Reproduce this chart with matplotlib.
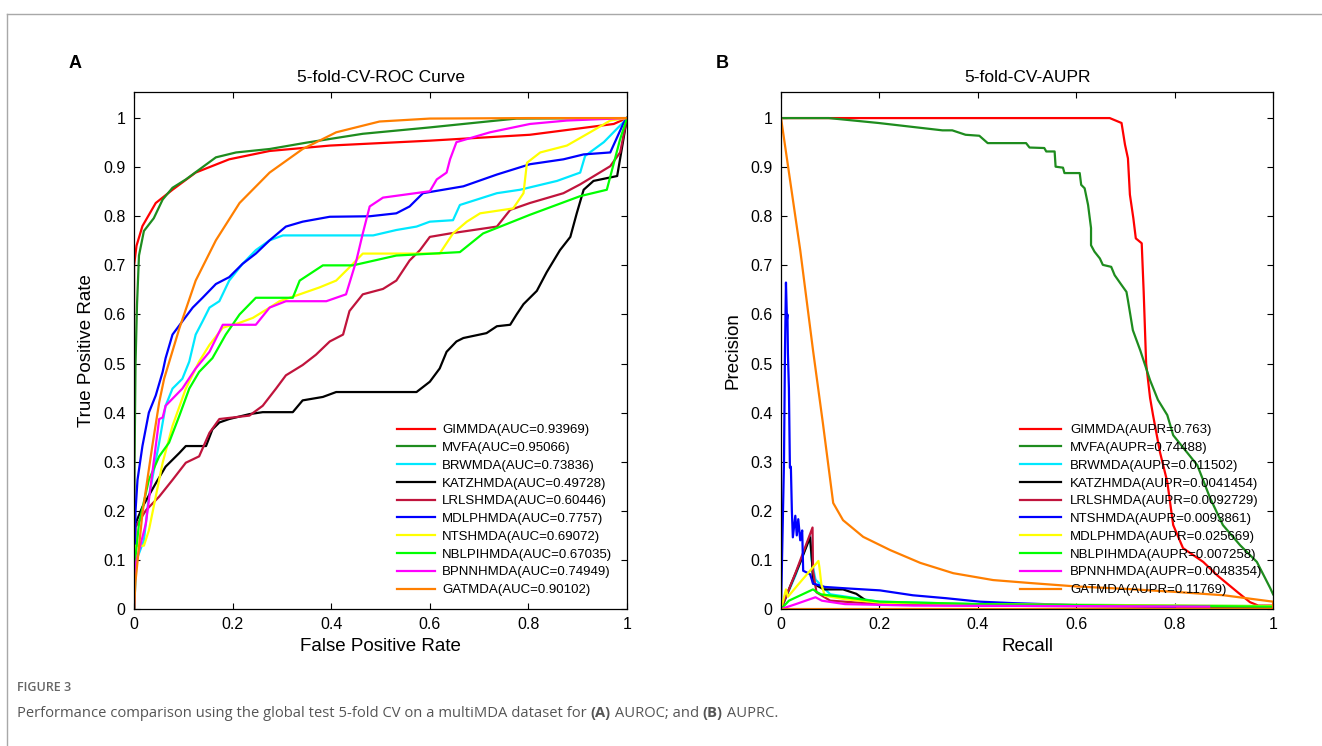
import matplotlib.pyplot as plt
from matplotlib.lines import Line2D

plt.rcParams['font.family'] = ['Liberation Sans', 'DejaVu Sans']

# ---- panel A: ROC curves ----
roc_names = ['GIMMDA', 'MVFA', 'BRWMDA', 'KATZHMDA', 'LRLSHMDA',
             'MDLPHMDA', 'NTSHMDA', 'NBLPIHMDA', 'BPNNHMDA', 'GATMDA']
roc_auc = ['0.93969', '0.95066', '0.73836', '0.49728', '0.60446',
           '0.7757', '0.69072', '0.67035', '0.74949', '0.90102']
roc_colors = ['#ff0000', '#1e8c1e', '#00e8ff', '#000000', '#c0143c',
              '#0000ff', '#ffff00', '#00ff00', '#ff00ff', '#ff7f00']

fpr_gimmda = [0, 0, 0.005, 0.017, 0.044, 0.078, 0.125, 0.193, 0.275, 0.397, 0.6, 0.803, 0.973, 1]
tpr_gimmda = [0, 0.7, 0.74, 0.78, 0.827, 0.854, 0.889, 0.916, 0.933, 0.944, 0.954, 0.966, 0.988, 1]
fpr_mvfa = [0, 0.001, 0.003, 0.006, 0.01, 0.02, 0.04, 0.058, 0.078, 0.105, 0.166, 0.207, 0.275,
            0.35, 0.464, 0.6, 0.736, 0.776, 1]
tpr_mvfa = [0, 0.3, 0.5, 0.62, 0.72, 0.77, 0.796, 0.834, 0.858, 0.875, 0.92, 0.93, 0.937,
            0.95, 0.968, 0.981, 0.995, 0.999, 1]
fpr_brwmda = [0, 0.005, 0.02, 0.03, 0.051, 0.064, 0.078, 0.098, 0.112, 0.125, 0.139, 0.153, 0.173,
              0.193, 0.22, 0.247, 0.275, 0.302, 0.485, 0.532, 0.573, 0.6, 0.647, 0.661, 0.736,
              0.783, 0.858, 0.905, 0.915, 0.953, 0.993, 1]
tpr_brwmda = [0, 0.1, 0.14, 0.229, 0.339, 0.414, 0.449, 0.469, 0.504, 0.559, 0.586, 0.614, 0.627,
              0.669, 0.703, 0.731, 0.751, 0.761, 0.761, 0.772, 0.779, 0.789, 0.792, 0.823, 0.847,
              0.854, 0.872, 0.889, 0.923, 0.951, 0.992, 1]
fpr_katz = [0, 0, 0.017, 0.044, 0.064, 0.092, 0.105, 0.146, 0.159, 0.173, 0.193, 0.234, 0.261,
            0.322, 0.342, 0.383, 0.41, 0.573, 0.6, 0.62, 0.634, 0.654, 0.668, 0.715, 0.736, 0.763,
            0.776, 0.79, 0.817, 0.837, 0.864, 0.885, 0.898, 0.912, 0.932, 0.98, 1]
tpr_katz = [0, 0.167, 0.208, 0.256, 0.29, 0.318, 0.332, 0.332, 0.366, 0.38, 0.387, 0.397, 0.401,
            0.401, 0.425, 0.432, 0.442, 0.442, 0.463, 0.49, 0.524, 0.545, 0.552, 0.562, 0.576, 0.579,
            0.6, 0.621, 0.648, 0.686, 0.731, 0.758, 0.806, 0.854, 0.872, 0.882, 1]
fpr_lrls = [0, 0.003, 0.024, 0.051, 0.078, 0.105, 0.132, 0.153, 0.173, 0.234, 0.261, 0.288, 0.308,
            0.342, 0.369, 0.397, 0.424, 0.437, 0.464, 0.505, 0.532, 0.559, 0.58, 0.6, 0.641, 0.736,
            0.763, 0.803, 0.871, 0.905, 0.966, 0.986, 1]
tpr_lrls = [0, 0.167, 0.201, 0.229, 0.263, 0.298, 0.311, 0.359, 0.387, 0.394, 0.414, 0.449, 0.476,
            0.497, 0.518, 0.545, 0.559, 0.607, 0.641, 0.652, 0.669, 0.71, 0.731, 0.758, 0.765, 0.779,
            0.813, 0.827, 0.847, 0.865, 0.902, 0.93, 1]
fpr_mdlp = [0, 0.003, 0.007, 0.017, 0.03, 0.044, 0.058, 0.064, 0.078, 0.098, 0.119, 0.139, 0.166,
            0.193, 0.22, 0.247, 0.275, 0.308, 0.342, 0.397, 0.478, 0.532, 0.559, 0.586, 0.668, 0.736,
            0.803, 0.871, 0.912, 0.966, 0.993, 1]
tpr_mdlp = [0, 0.2, 0.263, 0.332, 0.4, 0.435, 0.483, 0.511, 0.559, 0.586, 0.614, 0.634, 0.662,
            0.676, 0.703, 0.724, 0.751, 0.779, 0.789, 0.799, 0.8, 0.806, 0.82, 0.847, 0.861, 0.885,
            0.906, 0.916, 0.926, 0.93, 0.99, 1]
fpr_ntsh = [0, 0.003, 0.02, 0.03, 0.044, 0.058, 0.078, 0.105, 0.132, 0.153, 0.18, 0.214, 0.241,
            0.275, 0.295, 0.336, 0.376, 0.41, 0.437, 0.464, 0.62, 0.647, 0.675, 0.702, 0.769, 0.79,
            0.797, 0.824, 0.878, 0.925, 0.966, 1]
tpr_ntsh = [0, 0.129, 0.129, 0.16, 0.229, 0.298, 0.373, 0.449, 0.504, 0.538, 0.573, 0.583, 0.593,
            0.614, 0.627, 0.641, 0.655, 0.669, 0.696, 0.724, 0.724, 0.765, 0.789, 0.806, 0.816, 0.847,
            0.909, 0.93, 0.944, 0.971, 0.995, 1]
fpr_nblpi = [0, 0, 0.01, 0.03, 0.051, 0.071, 0.092, 0.112, 0.132, 0.159, 0.186, 0.214, 0.247, 0.322,
             0.336, 0.383, 0.444, 0.532, 0.661, 0.708, 0.803, 0.905, 0.959, 0.986, 1]
tpr_nblpi = [0, 0.078, 0.174, 0.263, 0.311, 0.339, 0.394, 0.449, 0.483, 0.511, 0.559, 0.6, 0.634, 0.634,
             0.669, 0.7, 0.7, 0.72, 0.727, 0.765, 0.803, 0.841, 0.854, 0.957, 1]
fpr_bpnn = [0, 0.003, 0.024, 0.051, 0.058, 0.064, 0.098, 0.125, 0.153, 0.18, 0.247, 0.275, 0.308,
            0.39, 0.43, 0.451, 0.464, 0.478, 0.505, 0.6, 0.614, 0.634, 0.641, 0.654, 0.722, 0.803,
            0.878, 1]
tpr_bpnn = [0, 0.091, 0.174, 0.387, 0.39, 0.414, 0.449, 0.49, 0.524, 0.579, 0.579, 0.614, 0.627,
            0.627, 0.641, 0.71, 0.765, 0.82, 0.838, 0.851, 0.875, 0.889, 0.916, 0.951, 0.971, 0.988,
            0.995, 1]
fpr_gat = [0, 0.003, 0.017, 0.037, 0.051, 0.061, 0.092, 0.125, 0.166, 0.214, 0.275, 0.342, 0.41,
           0.498, 0.6, 0.8, 1]
tpr_gat = [0, 0.057, 0.195, 0.332, 0.421, 0.469, 0.572, 0.669, 0.751, 0.827, 0.889, 0.937, 0.971,
           0.993, 0.999, 1, 1]

roc_fpr = [fpr_gimmda, fpr_mvfa, fpr_brwmda, fpr_katz, fpr_lrls,
           fpr_mdlp, fpr_ntsh, fpr_nblpi, fpr_bpnn, fpr_gat]
roc_tpr = [tpr_gimmda, tpr_mvfa, tpr_brwmda, tpr_katz, tpr_lrls,
           tpr_mdlp, tpr_ntsh, tpr_nblpi, tpr_bpnn, tpr_gat]

# ---- panel B: precision-recall curves ----
pr_names = ['GIMMDA', 'MVFA', 'BRWMDA', 'KATZHMDA', 'LRLSHMDA',
            'NTSHMDA', 'MDLPHMDA', 'NBLPIHMDA', 'BPNNHMDA', 'GATMDA']
pr_aupr = ['0.763', '0.74488', '0.011502', '0.0041454', '0.0092729',
           '0.0093861', '0.025669', '0.007258', '0.0048354', '0.11769']
pr_colors = ['#ff0000', '#1e8c1e', '#00e8ff', '#000000', '#c0143c',
             '#0000ff', '#ffff00', '#00ff00', '#ff00ff', '#ff7f00']

rec_gimmda = [0, 0.668, 0.692, 0.699, 0.705, 0.709, 0.716, 0.721, 0.733, 0.737, 0.742, 0.75, 0.756,
              0.77, 0.785, 0.797, 0.817, 0.858, 0.886, 0.927, 0.953, 0.97, 1]
pre_gimmda = [1, 1, 0.99, 0.946, 0.918, 0.844, 0.796, 0.755, 0.745, 0.646, 0.5, 0.43, 0.395,
              0.32, 0.259, 0.171, 0.124, 0.096, 0.069, 0.035, 0.014, 0.007, 0.007]
rec_mvfa = [0, 0.097, 0.198, 0.328, 0.348, 0.375, 0.403, 0.42, 0.498, 0.505, 0.535, 0.539, 0.556,
            0.558, 0.573, 0.576, 0.607, 0.61, 0.617, 0.624, 0.63, 0.63, 0.637, 0.648, 0.654, 0.671,
            0.678, 0.692, 0.702, 0.705, 0.715, 0.73, 0.75, 0.766, 0.785, 0.797, 0.846, 0.872, 0.898,
            0.933, 0.967, 0.994, 1]
pre_mvfa = [1, 1, 0.99, 0.975, 0.975, 0.966, 0.964, 0.949, 0.949, 0.94, 0.939, 0.932, 0.932,
            0.901, 0.899, 0.888, 0.888, 0.864, 0.857, 0.823, 0.776, 0.741, 0.728, 0.714, 0.701, 0.697,
            0.68, 0.66, 0.646, 0.629, 0.568, 0.527, 0.466, 0.426, 0.395, 0.354, 0.293, 0.226, 0.171,
            0.13, 0.096, 0.043, 0.03]
rec_brwmda = [0, 0.03, 0.059, 0.062, 0.07, 0.1, 0.2, 0.4, 0.7, 1.0]
pre_brwmda = [0, 0.07, 0.15, 0.1, 0.06, 0.03, 0.015, 0.01, 0.008, 0.006]
rec_katz = [0, 0.016, 0.039, 0.059, 0.063, 0.065, 0.087, 0.126, 0.153, 0.173, 0.2]
pre_katz = [0, 0.04, 0.095, 0.146, 0.098, 0.052, 0.04, 0.04, 0.031, 0.017, 0.008]
rec_lrls = [0, 0.03, 0.064, 0.065, 0.072, 0.1, 0.2, 0.4, 0.7, 1.0]
pre_lrls = [0, 0.075, 0.166, 0.078, 0.034, 0.017, 0.01, 0.007, 0.005, 0.004]
rec_ntsh = [0, 0.006, 0.008, 0.01, 0.012, 0.013, 0.014, 0.016, 0.018, 0.02, 0.022, 0.024, 0.029,
            0.032, 0.035, 0.039, 0.043, 0.045, 0.059, 0.065, 0.089, 0.134, 0.201, 0.268, 0.336,
            0.404, 0.472, 0.6, 0.8]
pre_ntsh = [0, 0.3, 0.526, 0.665, 0.59, 0.6, 0.52, 0.45, 0.288, 0.29, 0.2, 0.146, 0.19,
            0.15, 0.183, 0.14, 0.16, 0.078, 0.071, 0.052, 0.045, 0.042, 0.038, 0.028, 0.022,
            0.015, 0.012, 0.008, 0.005]
rec_mdlp = [0, 0.01, 0.014, 0.035, 0.076, 0.078, 0.082, 0.089, 0.13, 0.2, 0.4, 0.7, 1]
pre_mdlp = [0, 0.04, 0.025, 0.05, 0.098, 0.085, 0.05, 0.027, 0.02, 0.013, 0.01, 0.008, 0.006]
rec_nblpi = [0, 0.016, 0.065, 0.072, 0.081, 0.13, 0.2, 0.4, 0.7, 1]
pre_nblpi = [0, 0.017, 0.04, 0.035, 0.03, 0.024, 0.015, 0.01, 0.007, 0.005]
rec_bpnn = [0, 0.03, 0.07, 0.083, 0.13, 0.27, 0.6, 0.87]
pre_bpnn = [0, 0.01, 0.024, 0.017, 0.01, 0.007, 0.006, 0.005]
rec_gat = [0, 0.039, 0.065, 0.085, 0.106, 0.126, 0.167, 0.222, 0.283, 0.35, 0.431, 0.506, 0.6,
           0.7, 0.8, 0.9, 1, 1, 0]
pre_gat = [1, 0.731, 0.527, 0.379, 0.216, 0.181, 0.147, 0.12, 0.094, 0.073, 0.059, 0.053, 0.046,
           0.041, 0.035, 0.028, 0.015, 0, 0]

pr_rec = [rec_gimmda, rec_mvfa, rec_brwmda, rec_katz, rec_lrls,
          rec_ntsh, rec_mdlp, rec_nblpi, rec_bpnn, rec_gat]
pr_pre = [pre_gimmda, pre_mvfa, pre_brwmda, pre_katz, pre_lrls,
          pre_ntsh, pre_mdlp, pre_nblpi, pre_bpnn, pre_gat]

caption_parts = [('Performance comparison using the global test 5-fold CV on a multiMDA dataset for ', 'normal'),
                 ('(A)', 'bold'), (' AUROC; and ', 'normal'), ('(B)', 'bold'), (' AUPRC.', 'normal')]


fig = plt.figure(figsize=(13.22, 7.46), dpi=100)
fig.patch.set_facecolor('white')

ax1 = fig.add_axes([0.1014, 0.1836, 0.3729, 0.693])
ax2 = fig.add_axes([0.5908, 0.1836, 0.3722, 0.693])


def style_axes(ax):
    ax.set_xlim(0, 1)
    ax.set_ylim(0, 1.053)
    ax.set_xticks([0, 0.2, 0.4, 0.6, 0.8, 1])
    ax.set_xticklabels(['0', '0.2', '0.4', '0.6', '0.8', '1'])
    ax.set_yticks([i / 10 for i in range(11)])
    ax.set_yticklabels(['%g' % (i / 10) for i in range(11)])
    ax.tick_params(direction='in', top=True, right=True, length=4.5, width=0.8,
                   labelsize=11.5, pad=6)
    for s in ax.spines.values():
        s.set_linewidth(0.9)


for x, y, c, n, a in zip(roc_fpr, roc_tpr, roc_colors, roc_names, roc_auc):
    ax1.plot(x, y, color=c, lw=1.6, label='%s(AUC=%s)' % (n, a))
style_axes(ax1)
ax1.set_title('5-fold-CV-ROC Curve', fontsize=12.5, pad=7)
ax1.set_xlabel('False Positive Rate', fontsize=13.5, labelpad=4)
ax1.set_ylabel('True Positive Rate', fontsize=13.5, labelpad=6)
ax1.legend(loc='upper left', bbox_to_anchor=(0.533, 0.358), frameon=False, fontsize=9.5,
           handlelength=2.9, handletextpad=0.55, labelspacing=0.42, borderpad=0,
           borderaxespad=0)

for x, y, c, n, a in zip(pr_rec, pr_pre, pr_colors, pr_names, pr_aupr):
    ax2.plot(x, y, color=c, lw=1.6, label='%s(AUPR=%s)' % (n, a))
style_axes(ax2)
ax2.set_title('5-fold-CV-AUPR', fontsize=12.5, pad=7)
ax2.set_xlabel('Recall', fontsize=13.5, labelpad=4)
ax2.set_ylabel('Precision', fontsize=13.5, labelpad=6)
ax2.legend(loc='upper left', bbox_to_anchor=(0.486, 0.358), frameon=False, fontsize=9.5,
           handlelength=3.1, handletextpad=0.7, labelspacing=0.42, borderpad=0,
           borderaxespad=0)

# panel letters
fig.text(0.0567, 0.915, 'A', fontsize=13, fontweight='bold', ha='center', va='center')
fig.text(0.546, 0.915, 'B', fontsize=13, fontweight='bold', ha='center', va='center')

# page frame lines
fig.add_artist(Line2D([0.0053, 1], [0.981, 0.981], color='#a8a8a8', lw=1))
fig.add_artist(Line2D([0.0053, 0.0053], [0, 0.981], color='#a8a8a8', lw=1))

# caption
cap_font = ['Open Sans', 'DejaVu Sans']
fig.text(0.0129, 0.079, 'FIGURE 3', fontsize=9, color='#666666', fontweight='semibold',
         family=cap_font, va='center')
t = fig.text(0.0129, 0.0442, caption_parts[0][0], fontsize=10.6, color='#555555',
             family=cap_font, va='center')
for s, w in caption_parts[1:]:
    t = fig.add_artist(plt.Annotation(s, xy=(1, 0.5), xycoords=t, va='center', fontsize=10.6,
                                      color='#555555', family=cap_font, fontweight=w,
                                      annotation_clip=False))

fig.savefig('out.png', dpi=100)
